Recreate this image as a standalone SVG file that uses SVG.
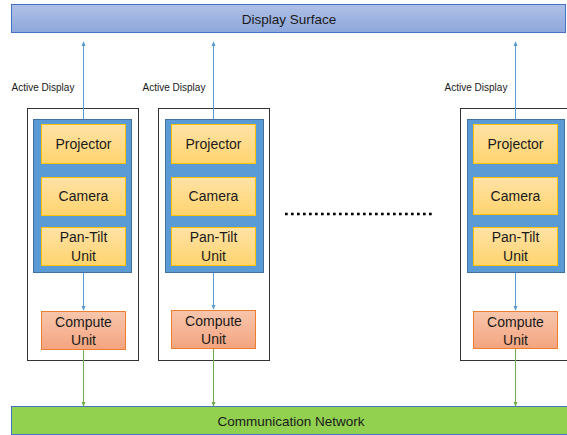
<svg xmlns="http://www.w3.org/2000/svg" width="567" height="435" viewBox="0 0 567 435">
<defs>
<linearGradient id="gSurf" x1="0" y1="0" x2="0" y2="1"><stop offset="0" stop-color="#AFC0E6"/><stop offset="1" stop-color="#8EA8DC"/></linearGradient>
<linearGradient id="gYel" x1="0" y1="0" x2="0" y2="1"><stop offset="0" stop-color="#FFE2A6"/><stop offset="1" stop-color="#FFD46E"/></linearGradient>
<linearGradient id="gOr" x1="0" y1="0" x2="0" y2="1"><stop offset="0" stop-color="#F8C6AC"/><stop offset="1" stop-color="#F4A47F"/></linearGradient>
<marker id="ab" viewBox="0 0 6 6" refX="5" refY="3" markerWidth="5" markerHeight="5" orient="auto"><path d="M0,0.5 L6,3 L0,5.5 z" fill="#5B9BD5"/></marker>
<marker id="ag" viewBox="0 0 6 6" refX="5" refY="3" markerWidth="5" markerHeight="5" orient="auto"><path d="M0,0.5 L6,3 L0,5.5 z" fill="#70AD47"/></marker>
</defs>
<style>
text{font-family:"Liberation Sans",Arial,sans-serif;fill:#1a1a1a;text-anchor:middle;dominant-baseline:central}
.outer{fill:#fff;stroke:#333;stroke-width:1}
.blue{fill:#5B9BD5;stroke:#41719C;stroke-width:1}
.yel{fill:url(#gYel);stroke:#FFC000;stroke-width:1}
.comp{fill:url(#gOr);stroke:#ED7D31;stroke-width:1}
.t{font-size:14px}
.lbl{font-size:10px}
.ub{stroke:#5B9BD5;stroke-width:1;fill:none;marker-end:url(#ab)}
.ug{stroke:#70AD47;stroke-width:1;fill:none;marker-end:url(#ag)}
</style>
<g id="display-surface">
<rect x="11.5" y="4.5" width="554" height="28" fill="url(#gSurf)" stroke="#4472C4"/>
<text x="289" y="19" style="font-size:13.5px">Display Surface</text>
</g>
<g id="comm-network">
<rect x="11.5" y="406.5" width="560" height="28" fill="#92D050" stroke="#4472C4"/>
<text x="291" y="421" style="font-size:13.5px">Communication Network</text>
</g>
<g id="unit1">
<rect class="outer" x="27.5" y="108.5" width="111" height="252"/>
<rect class="blue" x="33.5" y="119.5" width="98" height="153"/>
<g id="projector1"><rect class="yel" x="41.5" y="124.5" width="84" height="39"/><text class="t" x="83.5" y="144">Projector</text></g>
<g id="camera1"><rect class="yel" x="41.5" y="177.5" width="84" height="38"/><text class="t" x="83.5" y="196">Camera</text></g>
<g id="pantilt1"><rect class="yel" x="41.5" y="227.5" width="84" height="38"/><text class="t" x="83.5" y="237">Pan-Tilt</text><text class="t" x="83.5" y="256">Unit</text></g>
<g id="compute1"><rect class="comp" x="41.5" y="311.5" width="84" height="38"/><text class="t" x="83.5" y="322">Compute</text><text class="t" x="83.5" y="340">Unit</text></g>
<text class="lbl" x="43" y="87">Active Display</text>
</g>
<g id="unit2">
<rect class="outer" x="158.5" y="108.5" width="111" height="252"/>
<rect class="blue" x="165.5" y="119.5" width="98" height="153"/>
<g id="projector2"><rect class="yel" x="171.5" y="124.5" width="84" height="39"/><text class="t" x="213.5" y="144">Projector</text></g>
<g id="camera2"><rect class="yel" x="171.5" y="177.5" width="84" height="38"/><text class="t" x="213.5" y="196">Camera</text></g>
<g id="pantilt2"><rect class="yel" x="171.5" y="227.5" width="84" height="38"/><text class="t" x="213.5" y="237">Pan-Tilt</text><text class="t" x="213.5" y="256">Unit</text></g>
<g id="compute2"><rect class="comp" x="171.5" y="310.5" width="84" height="38"/><text class="t" x="213.5" y="321">Compute</text><text class="t" x="213.5" y="339">Unit</text></g>
<text class="lbl" x="174" y="87">Active Display</text>
</g>
<g id="unit3">
<rect class="outer" x="460.5" y="108.5" width="111" height="252"/>
<rect class="blue" x="467.5" y="119.5" width="97" height="153"/>
<g id="projector3"><rect class="yel" x="473.5" y="124.5" width="84" height="39"/><text class="t" x="515.5" y="144">Projector</text></g>
<g id="camera3"><rect class="yel" x="473.5" y="177.5" width="84" height="37"/><text class="t" x="515.5" y="196">Camera</text></g>
<g id="pantilt3"><rect class="yel" x="473.5" y="227.5" width="84" height="38"/><text class="t" x="515.5" y="237">Pan-Tilt</text><text class="t" x="515.5" y="256">Unit</text></g>
<g id="compute3"><rect class="comp" x="473.5" y="311.5" width="84" height="37"/><text class="t" x="515.5" y="322">Compute</text><text class="t" x="515.5" y="340">Unit</text></g>
<text class="lbl" x="476" y="87">Active Display</text>
</g>
<g id="connectors">
<path class="ub" d="M83.5,119 V42"/>
<path class="ub" d="M213.5,119 V42"/>
<path class="ub" d="M515.5,119 V42"/>
<path class="ub" d="M83.5,273 V310"/>
<path class="ub" d="M213.5,273 V309"/>
<path class="ub" d="M515.5,273 V310"/>
<path class="ug" d="M83.5,350 V406"/>
<path class="ug" d="M213.5,349 V406"/>
<path class="ug" d="M515.5,349 V406"/>
<line x1="285" y1="214" x2="433" y2="214" stroke="#000" stroke-width="2.6" stroke-dasharray="2.7,3.3"/>
</g>
</svg>
